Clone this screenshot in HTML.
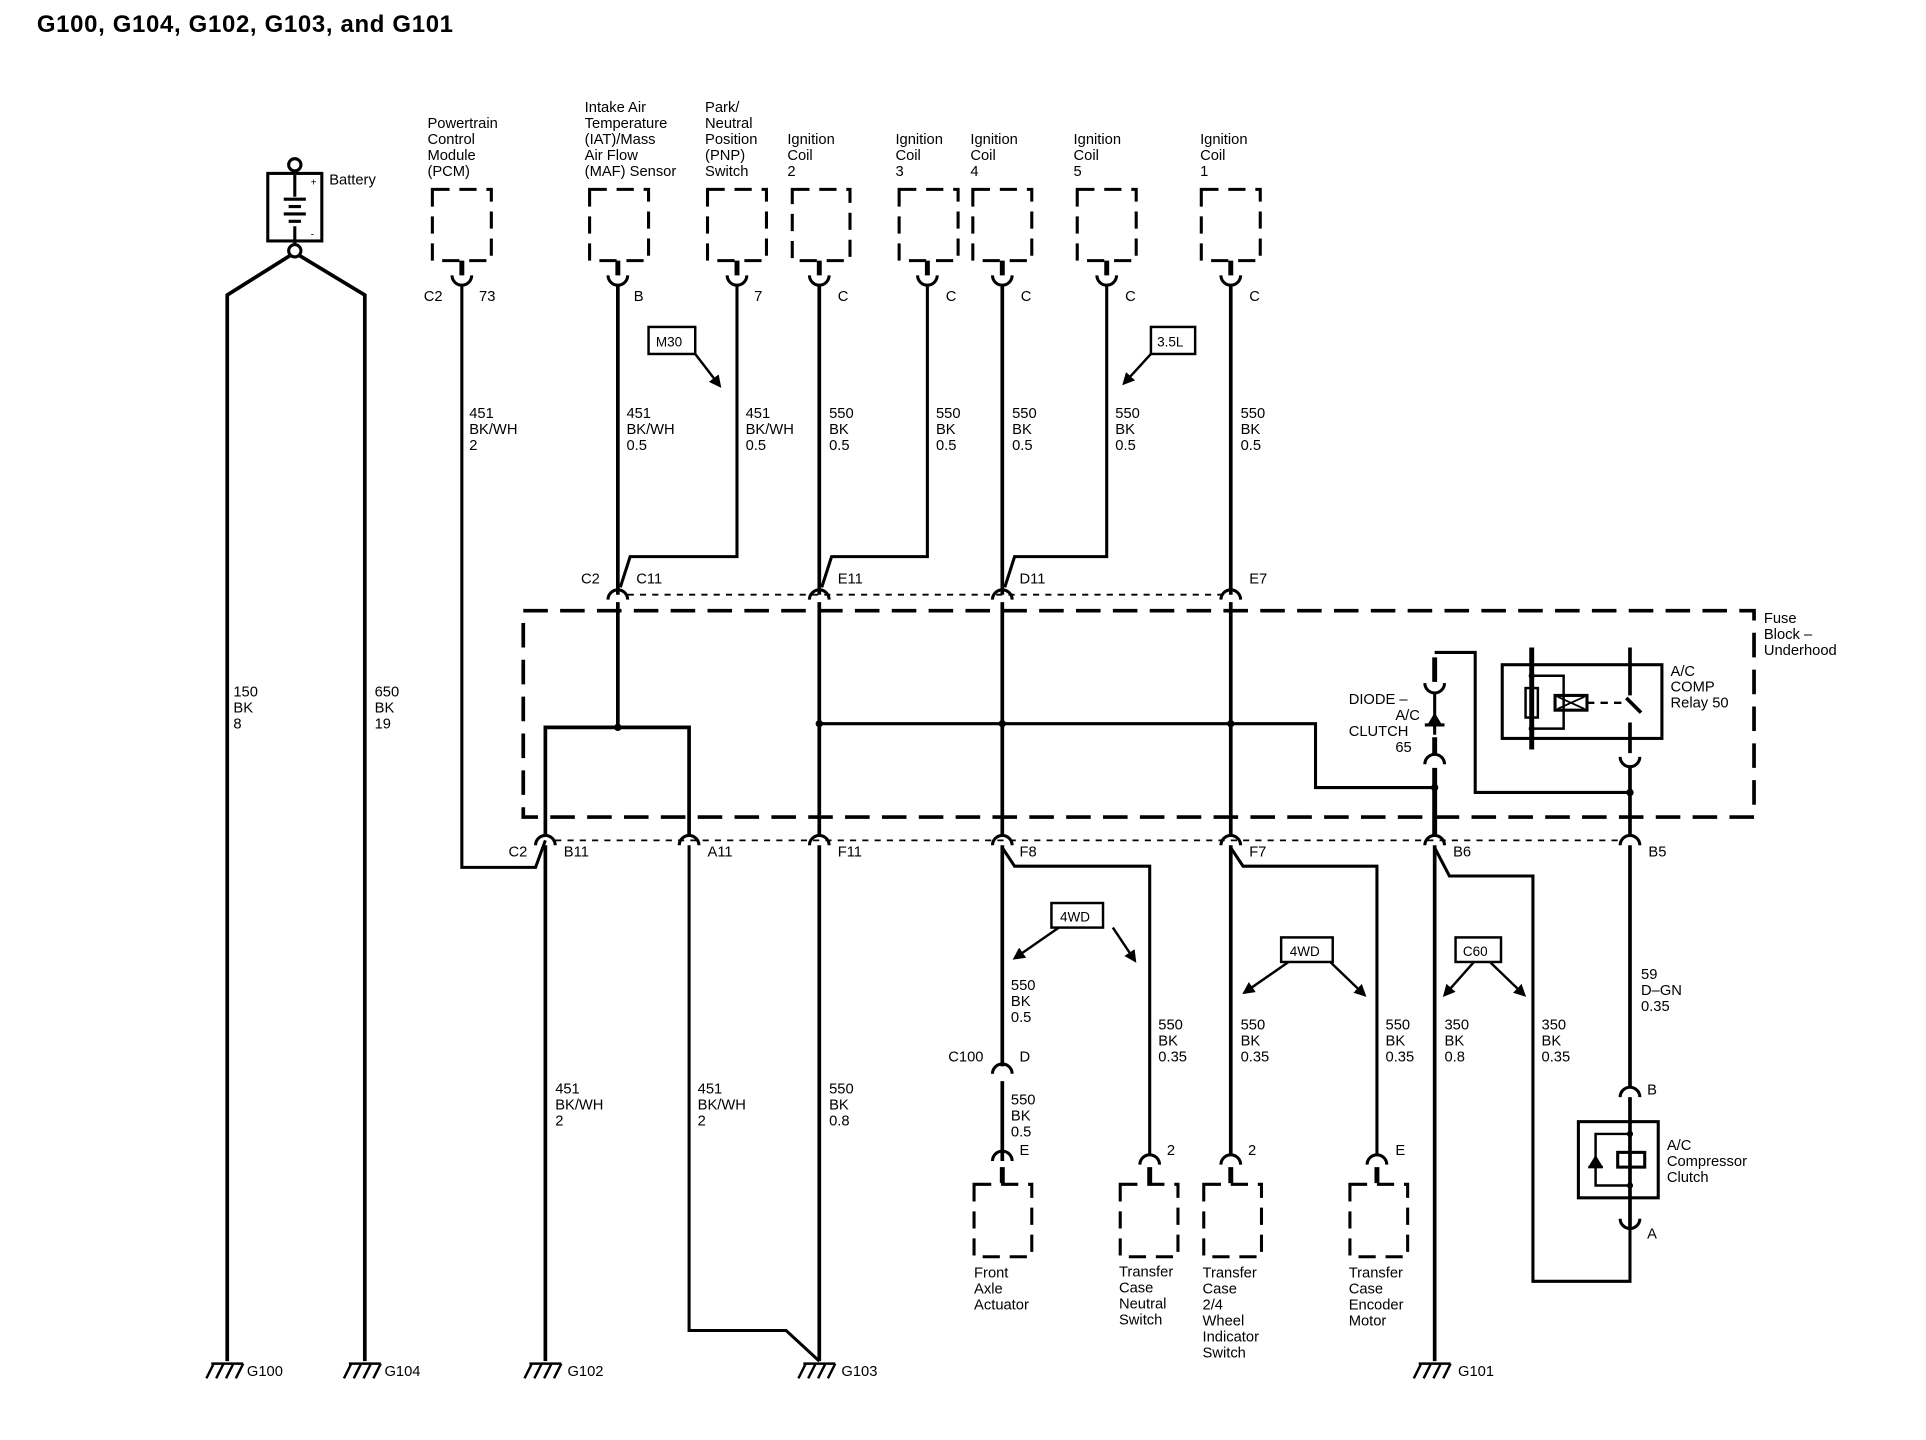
<!DOCTYPE html>
<html><head><meta charset="utf-8"><style>
html,body{margin:0;padding:0;background:#fff}
svg{display:block}
text{font-family:"Liberation Sans",sans-serif;font-size:12px;fill:#000}
.b{font-weight:bold}
</style></head><body>
<svg width="1926" height="1440" viewBox="0 0 1568 1172" xmlns="http://www.w3.org/2000/svg">
<defs>
<marker id="ar" markerWidth="10" markerHeight="10" refX="8" refY="5" orient="auto" markerUnits="userSpaceOnUse"><path d="M0,0 L10,5 L0,10 z" fill="#000"/></marker>
</defs>
<text x="30" y="26" class="b" style="font-size:19.5px;letter-spacing:0.55px">G100, G104, G102, G103, and G101</text>

<g fill="none" stroke="#000" stroke-width="3">
<rect x="218" y="141" width="44" height="55" stroke-width="2.5"/>
<circle cx="240" cy="134" r="5" stroke-width="2.5"/>
<circle cx="240" cy="204" r="5" stroke-width="2.5"/>
<path d="M240,139V160 M240,184V199" stroke-width="2.5"/>
<path d="M231,162H249 M235,168H245 M231,174H249 M235,180H245" stroke-width="2.5"/>
<path d="M236,208L185,240V1108 M244,208L297,240V1108"/>

<g stroke-width="2.5" stroke-dasharray="14,8">
<rect x="352" y="154" width="48" height="58"/>
<rect x="480" y="154" width="48" height="58"/>
<rect x="576" y="154" width="48" height="58"/>
<rect x="645" y="154" width="47" height="58"/>
<rect x="732" y="154" width="48" height="58"/>
<rect x="792" y="154" width="48" height="58"/>
<rect x="877" y="154" width="48" height="58"/>
<rect x="978" y="154" width="48" height="58"/>
</g>
<g stroke-width="4">
<path d="M376,212V224 M503,212V224 M600,212V224 M667,212V224 M755,212V224 M816,212V224 M901,212V224 M1002,212V224"/>
</g>
<g stroke-width="2.5">
<path d="M368,224A8,8 0 0 0 384,224 M495,224A8,8 0 0 0 511,224 M592,224A8,8 0 0 0 608,224 M659,224A8,8 0 0 0 675,224 M747,224A8,8 0 0 0 763,224 M808,224A8,8 0 0 0 824,224 M893,224A8,8 0 0 0 909,224 M994,224A8,8 0 0 0 1010,224"/>
</g>

<path d="M376,232V706H436L444,684" stroke-width="2.5"/>
<path d="M503,232V484"/>
<path d="M600,232V453H513L505,478" stroke-width="2.5"/>
<path d="M667,232V484"/>
<path d="M755,232V453H677L669,478" stroke-width="2.5"/>
<path d="M816,232V484"/>
<path d="M901,232V453H826L818,478" stroke-width="2.5"/>
<path d="M1002,232V484"/>

<g stroke-width="2.5">
<path d="M495,488A8,8 0 0 1 511,488 M659,488A8,8 0 0 1 675,488 M808,488A8,8 0 0 1 824,488 M994,488A8,8 0 0 1 1010,488"/>
<path d="M511,484H994" stroke-dasharray="5,5" stroke-width="1.5"/>
</g>
<rect x="426" y="497" width="1002" height="168" stroke-width="3" stroke-dasharray="20,10"/>
<path d="M503,490V592 M444,680V592H561V680"/>
<path d="M667,490V680 M816,490V680 M1002,490V680"/>
<path d="M667,589H1071V641H1168" stroke-width="2.5"/>
<path d="M1168,535V555 M1168,600V615 M1168,625V680" stroke-width="4"/>
<path d="M1160,556A8,8 0 0 0 1176,556 M1160,622A8,8 0 0 1 1176,622" stroke-width="2.5"/>
<path d="M1168,564V598 M1160,590H1176" stroke-width="2.5"/>
<path d="M1168,531H1201V645H1327" stroke-width="2.5"/>
<rect x="1223" y="541" width="130" height="60" stroke-width="2.5"/>
<path d="M1247,527V610" stroke-width="4"/>
<path d="M1247,550H1273V593H1247" stroke-width="2"/>
<rect x="1242" y="560" width="10" height="24" stroke-width="2"/>
<rect x="1266" y="566" width="26" height="12" stroke-width="2.5"/>
<path d="M1268,567L1290,577 M1268,577L1290,567" stroke-width="1.5"/>
<path d="M1292,572H1322" stroke-width="2" stroke-dasharray="6,5"/>
<path d="M1327,527V566 M1324,568L1336,580 M1327,588V613" stroke-width="3"/>
<path d="M1319,616A8,8 0 0 0 1335,616" stroke-width="2.5"/>
<path d="M1327,624V680"/>

<g stroke-width="2.5">
<path d="M436,688A8,8 0 0 1 452,688 M553,688A8,8 0 0 1 569,688 M659,688A8,8 0 0 1 675,688 M808,688A8,8 0 0 1 824,688 M994,688A8,8 0 0 1 1010,688 M1160,688A8,8 0 0 1 1176,688 M1319,688A8,8 0 0 1 1335,688"/>
<path d="M452,684H1319" stroke-dasharray="5,5" stroke-width="1.5"/>
</g>

<path d="M444,688V1108"/>
<path d="M561,688V1083H640L667,1108" stroke-width="2.5"/>
<path d="M667,688V1108"/>
<path d="M816,688V868"/>
<path d="M808,874A8,8 0 0 1 824,874 M808,945A8,8 0 0 1 824,945" stroke-width="2.5"/>
<path d="M816,880V945"/>
<path d="M816,690L826,705H936V940" stroke-width="2.5"/>
<path d="M1002,688V940"/>
<path d="M1002,690L1012,705H1121V940" stroke-width="2.5"/>
<path d="M1168,688V1108"/>
<path d="M1168,690L1180,713H1248V1043H1327V1000" stroke-width="2.5"/>
<path d="M1327,688V885"/>
<path d="M1319,893A8,8 0 0 1 1335,893" stroke-width="2.5"/>
<path d="M1319,992A8,8 0 0 0 1335,992" stroke-width="2.5"/>
<path d="M1327,893V1000" stroke-width="3"/>
<rect x="1285" y="913" width="65" height="62" stroke-width="2.5"/>
<path d="M1327,923H1299V965H1327" stroke-width="2"/>
<rect x="1317" y="938" width="22" height="12" stroke-width="2.5"/>
<path d="M1293,950H1305" stroke-width="2"/>
<g stroke-width="2.5">
<path d="M928,948A8,8 0 0 1 944,948 M994,948A8,8 0 0 1 1010,948 M1113,948A8,8 0 0 1 1129,948"/>
</g>
<g stroke-width="4"><path d="M816,950V963 M936,950V963 M1002,950V963 M1121,950V963"/></g>
<g stroke-width="2.5" stroke-dasharray="14,8">
<rect x="793" y="964" width="47" height="59"/>
<rect x="912" y="964" width="47" height="59"/>
<rect x="980" y="964" width="47" height="59"/>
<rect x="1099" y="964" width="47" height="59"/>
</g>

<g stroke-width="2">
<rect x="528" y="266" width="38" height="22"/>
<path d="M566,288L586,314" marker-end="url(#ar)"/>
<rect x="937" y="266" width="36" height="22"/>
<path d="M937,288L915,312" marker-end="url(#ar)"/>
<rect x="856" y="735" width="42" height="20"/>
<path d="M862,755L826,780" marker-end="url(#ar)"/>
<path d="M906,755L924,782" marker-end="url(#ar)"/>
<rect x="1043" y="763" width="42" height="20"/>
<path d="M1049,783L1013,808" marker-end="url(#ar)"/>
<path d="M1083,783L1111,810" marker-end="url(#ar)"/>
<rect x="1185" y="763" width="37" height="20"/>
<path d="M1200,783L1176,810" marker-end="url(#ar)"/>
<path d="M1213,783L1241,810" marker-end="url(#ar)"/>
</g>

<g stroke-width="2">
<path d="M172,1110H198 M174,1110L168,1122 M182,1110L176,1122 M190,1110L184,1122 M198,1110L192,1122"/>
<path d="M284,1110H310 M286,1110L280,1122 M294,1110L288,1122 M302,1110L296,1122 M310,1110L304,1122"/>
<path d="M431,1110H457 M433,1110L427,1122 M441,1110L435,1122 M449,1110L443,1122 M457,1110L451,1122"/>
<path d="M654,1110H680 M656,1110L650,1122 M664,1110L658,1122 M672,1110L666,1122 M680,1110L674,1122"/>
<path d="M1155,1110H1181 M1157,1110L1151,1122 M1165,1110L1159,1122 M1173,1110L1167,1122 M1181,1110L1175,1122"/>
</g>
</g>

<g fill="#000">
<path d="M1162,590L1168,580L1174,590Z"/>
<path d="M1293,950L1299,940L1305,950Z"/>
<circle cx="503" cy="592" r="3"/><circle cx="667" cy="589" r="3"/><circle cx="816" cy="589" r="3"/><circle cx="1002" cy="589" r="3"/>
<circle cx="1168" cy="641" r="3"/><circle cx="1327" cy="645" r="3"/>
<circle cx="1247" cy="550" r="2.5"/><circle cx="1247" cy="593" r="2.5"/>
<circle cx="1327" cy="923" r="2.5"/><circle cx="1327" cy="965" r="2.5"/>
</g>

<text x="268" y="150">Battery</text>
<text x="253" y="151" style="font-size:8px">+</text>
<text x="253" y="193" style="font-size:8px">-</text>
<g>
<text x="348" y="104">Powertrain</text><text x="348" y="117">Control</text><text x="348" y="130">Module</text><text x="348" y="143">(PCM)</text>
<text x="476" y="91">Intake Air</text><text x="476" y="104">Temperature</text><text x="476" y="117">(IAT)/Mass</text><text x="476" y="130">Air Flow</text><text x="476" y="143">(MAF) Sensor</text>
<text x="574" y="91">Park/</text><text x="574" y="104">Neutral</text><text x="574" y="117">Position</text><text x="574" y="130">(PNP)</text><text x="574" y="143">Switch</text>
<text x="641" y="117">Ignition</text><text x="641" y="130">Coil</text><text x="641" y="143">2</text>
<text x="729" y="117">Ignition</text><text x="729" y="130">Coil</text><text x="729" y="143">3</text>
<text x="790" y="117">Ignition</text><text x="790" y="130">Coil</text><text x="790" y="143">4</text>
<text x="874" y="117">Ignition</text><text x="874" y="130">Coil</text><text x="874" y="143">5</text>
<text x="977" y="117">Ignition</text><text x="977" y="130">Coil</text><text x="977" y="143">1</text>
</g>
<text x="345" y="245">C2</text><text x="390" y="245">73</text>
<text x="516" y="245">B</text><text x="614" y="245">7</text>
<text x="682" y="245">C</text><text x="770" y="245">C</text><text x="831" y="245">C</text><text x="916" y="245">C</text><text x="1017" y="245">C</text>
<text x="534" y="282" style="font-size:11px">M30</text>
<text x="942" y="282" style="font-size:11px">3.5L</text>
<g>
<text x="382" y="340">451</text><text x="382" y="353">BK/WH</text><text x="382" y="366">2</text>
<text x="510" y="340">451</text><text x="510" y="353">BK/WH</text><text x="510" y="366">0.5</text>
<text x="607" y="340">451</text><text x="607" y="353">BK/WH</text><text x="607" y="366">0.5</text>
<text x="675" y="340">550</text><text x="675" y="353">BK</text><text x="675" y="366">0.5</text>
<text x="762" y="340">550</text><text x="762" y="353">BK</text><text x="762" y="366">0.5</text>
<text x="824" y="340">550</text><text x="824" y="353">BK</text><text x="824" y="366">0.5</text>
<text x="908" y="340">550</text><text x="908" y="353">BK</text><text x="908" y="366">0.5</text>
<text x="1010" y="340">550</text><text x="1010" y="353">BK</text><text x="1010" y="366">0.5</text>
<text x="190" y="567">150</text><text x="190" y="580">BK</text><text x="190" y="593">8</text>
<text x="305" y="567">650</text><text x="305" y="580">BK</text><text x="305" y="593">19</text>
</g>
<text x="473" y="475">C2</text><text x="518" y="475">C11</text><text x="682" y="475">E11</text><text x="830" y="475">D11</text><text x="1017" y="475">E7</text>
<text x="1436" y="507">Fuse</text><text x="1436" y="520">Block –</text><text x="1436" y="533">Underhood</text>
<text x="1098" y="573">DIODE –</text><text x="1136" y="586">A/C</text><text x="1098" y="599">CLUTCH</text><text x="1136" y="612">65</text>
<text x="1360" y="550">A/C</text><text x="1360" y="563">COMP</text><text x="1360" y="576">Relay 50</text>
<text x="414" y="697">C2</text><text x="459" y="697">B11</text><text x="576" y="697">A11</text><text x="682" y="697">F11</text><text x="830" y="697">F8</text><text x="1017" y="697">F7</text><text x="1183" y="697">B6</text><text x="1342" y="697">B5</text>
<text x="863" y="750" style="font-size:11px">4WD</text>
<text x="1050" y="778" style="font-size:11px">4WD</text>
<text x="1191" y="778" style="font-size:11px">C60</text>
<g>
<text x="1336" y="797">59</text><text x="1336" y="810">D–GN</text><text x="1336" y="823">0.35</text>
<text x="823" y="806">550</text><text x="823" y="819">BK</text><text x="823" y="832">0.5</text>
<text x="943" y="838">550</text><text x="943" y="851">BK</text><text x="943" y="864">0.35</text>
<text x="1010" y="838">550</text><text x="1010" y="851">BK</text><text x="1010" y="864">0.35</text>
<text x="1128" y="838">550</text><text x="1128" y="851">BK</text><text x="1128" y="864">0.35</text>
<text x="1176" y="838">350</text><text x="1176" y="851">BK</text><text x="1176" y="864">0.8</text>
<text x="1255" y="838">350</text><text x="1255" y="851">BK</text><text x="1255" y="864">0.35</text>
<text x="823" y="899">550</text><text x="823" y="912">BK</text><text x="823" y="925">0.5</text>
<text x="452" y="890">451</text><text x="452" y="903">BK/WH</text><text x="452" y="916">2</text>
<text x="568" y="890">451</text><text x="568" y="903">BK/WH</text><text x="568" y="916">2</text>
<text x="675" y="890">550</text><text x="675" y="903">BK</text><text x="675" y="916">0.8</text>
</g>
<text x="772" y="864">C100</text><text x="830" y="864">D</text>
<text x="830" y="940">E</text><text x="950" y="940">2</text><text x="1016" y="940">2</text><text x="1136" y="940">E</text>
<text x="1341" y="891">B</text><text x="1341" y="1008">A</text>
<text x="1357" y="936">A/C</text><text x="1357" y="949">Compressor</text><text x="1357" y="962">Clutch</text>
<g>
<text x="793" y="1040">Front</text><text x="793" y="1053">Axle</text><text x="793" y="1066">Actuator</text>
<text x="911" y="1039">Transfer</text><text x="911" y="1052">Case</text><text x="911" y="1065">Neutral</text><text x="911" y="1078">Switch</text>
<text x="979" y="1040">Transfer</text><text x="979" y="1053">Case</text><text x="979" y="1066">2/4</text><text x="979" y="1079">Wheel</text><text x="979" y="1092">Indicator</text><text x="979" y="1105">Switch</text>
<text x="1098" y="1040">Transfer</text><text x="1098" y="1053">Case</text><text x="1098" y="1066">Encoder</text><text x="1098" y="1079">Motor</text>
</g>
<text x="201" y="1120">G100</text><text x="313" y="1120">G104</text><text x="462" y="1120">G102</text><text x="685" y="1120">G103</text><text x="1187" y="1120">G101</text>
</svg>
</body></html>
